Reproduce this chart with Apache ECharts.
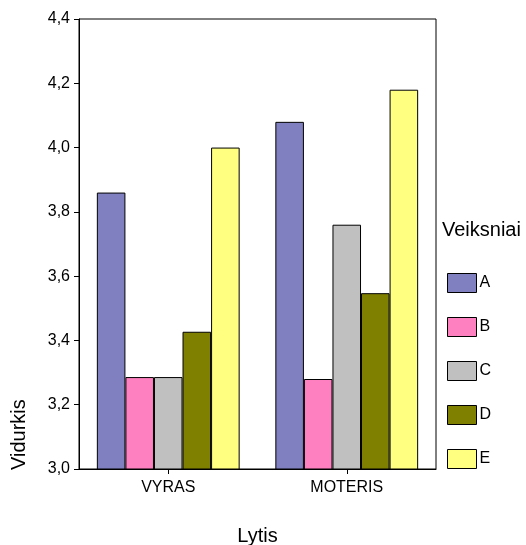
<!DOCTYPE html>
<html><head><meta charset="utf-8">
<script src="https://cdn.jsdelivr.net/npm/echarts@6/dist/echarts.min.js"></script>
<style>html,body{margin:0;padding:0;background:#fff}#c{width:526px;height:545px}</style>
</head><body><div id="c"></div>
<script>
var categories = ['VYRAS', 'MOTERIS'];
var seriesNames = ['A', 'B', 'C', 'D', 'E'];
var valuesA = [3.86, 4.08];
var valuesB = [3.286, 3.28];
var valuesC = [3.286, 3.76];
var valuesD = [3.427, 3.547];
var valuesE = [4.00, 4.18];
var colors = ['#8080C0', '#FF80C0', '#C0C0C0', '#808000', '#FFFF80'];
var allValues = [valuesA, valuesB, valuesC, valuesD, valuesE];

var font = 'Arial, "Liberation Sans", sans-serif';
var chart = echarts.init(document.getElementById('c'));
chart.setOption({
  animation: false,
  backgroundColor: '#fff',
  textStyle: { fontFamily: font },
  grid: { left: 79, right: 90, top: 19, bottom: 76, show: true, borderColor: '#000', borderWidth: 1,
    backgroundColor: 'transparent', containLabel: false, outerBoundsMode: 'none' },
  legend: {
    orient: 'vertical', left: 447, top: 273, padding: 0,
    itemWidth: 29, itemHeight: 19, itemGap: 24,
    textStyle: { fontSize: 16, color: '#000', fontFamily: font, padding: [0, 0, 0, -2] },
    data: seriesNames.map(function (n, i) {
      return { name: n, icon: 'rect', itemStyle: { color: colors[i], borderColor: '#000', borderWidth: 1 } };
    })
  },
  xAxis: {
    type: 'category', data: categories,
    name: 'Lytis', nameLocation: 'middle', nameGap: 57,
    nameTextStyle: { fontSize: 20, color: '#000', fontFamily: font },
    axisLine: { lineStyle: { color: '#000', width: 1 } },
    axisTick: { show: true, alignWithLabel: true, length: 5, lineStyle: { color: '#000' } },
    axisLabel: { fontSize: 16, color: '#000', margin: 11, fontFamily: font },
    splitLine: { show: false }
  },
  yAxis: {
    type: 'value', min: 3.0, max: 4.4, interval: 0.2,
    axisLine: { show: true, lineStyle: { color: '#000', width: 1 } },
    axisTick: { show: true, length: 5, lineStyle: { color: '#000' } },
    axisLabel: { fontSize: 16, color: '#000', margin: 9, fontFamily: font,
      formatter: function (v) { return v.toFixed(1).replace('.', ','); } },
    splitLine: { show: false }
  },
  graphic: [
    { type: 'text', left: 442, top: 220, style: { text: 'Veiksniai', fill: '#000', font: '20px ' + font } },
    { type: 'text', x: 19, y: 470, rotation: Math.PI / 2,
      style: { text: 'Vidurkis', fill: '#000', font: '20px ' + font, textAlign: 'left', textVerticalAlign: 'middle' } }
  ],
  series: seriesNames.map(function (n, i) {
    return {
      name: n, type: 'bar', data: allValues[i],
      barGap: '0%', barCategoryGap: '20%',
      itemStyle: { color: colors[i], borderColor: '#000', borderWidth: 1 }
    };
  })
});
</script></body></html>
